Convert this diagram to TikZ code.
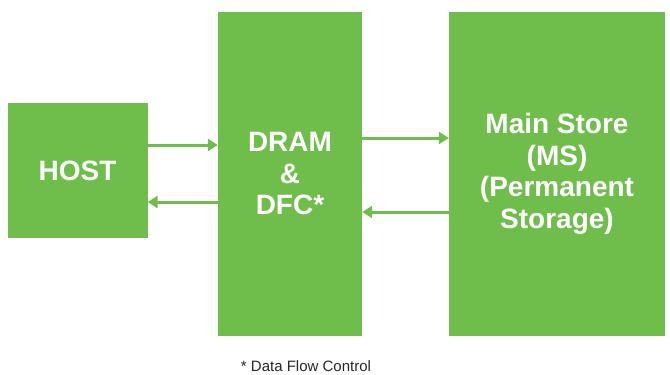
\documentclass[tikz,border=0pt]{standalone}
\usepackage{fontspec}
\setmainfont{Liberation Sans}
\usetikzlibrary{arrows.meta}
\definecolor{blockgreen}{RGB}{111,190,76}

\begin{document}
\begin{tikzpicture}[x=1pt,y=-1pt]
      \tikzset{
        block/.style={rectangle,fill=blockgreen,inner sep=0pt,text=white,align=center,
          font=\bfseries\fontsize{28}{31.5}\selectfont},
        flow/.style={draw=blockgreen,line width=3pt,-{Triangle[length=10pt,width=12pt]}}
      }
      \useasboundingbox (0,0) rectangle (670,375);

      \node[block,minimum width=140pt,minimum height=135pt] (host) at (77.5,170.5) {HOST};
      \node[block,minimum width=144pt,minimum height=324pt] (dram) at (290,174) {DRAM\\\&\\DFC*};
      \node[block,minimum width=216pt,minimum height=324pt] (ms) at (557,174) {Main Store\\(MS)\\(Permanent\\Storage)};
      \node[font=\fontsize{15}{18}\selectfont,text=black!85] (note) at (306,366) {* Data Flow Control};

      \draw[flow] ([yshift=25.5pt]host.east) -- ([yshift=25.5pt]host.east -| dram.west);
      \draw[flow] ([yshift=-31.5pt]host.east -| dram.west) -- ([yshift=-31.5pt]host.east);
      \draw[flow] ([yshift=36pt]dram.east) -- ([yshift=36pt]dram.east -| ms.west);
      \draw[flow] ([yshift=-38pt]ms.west) -- ([yshift=-38pt]ms.west -| dram.east);
    \end{tikzpicture}
\end{document}
